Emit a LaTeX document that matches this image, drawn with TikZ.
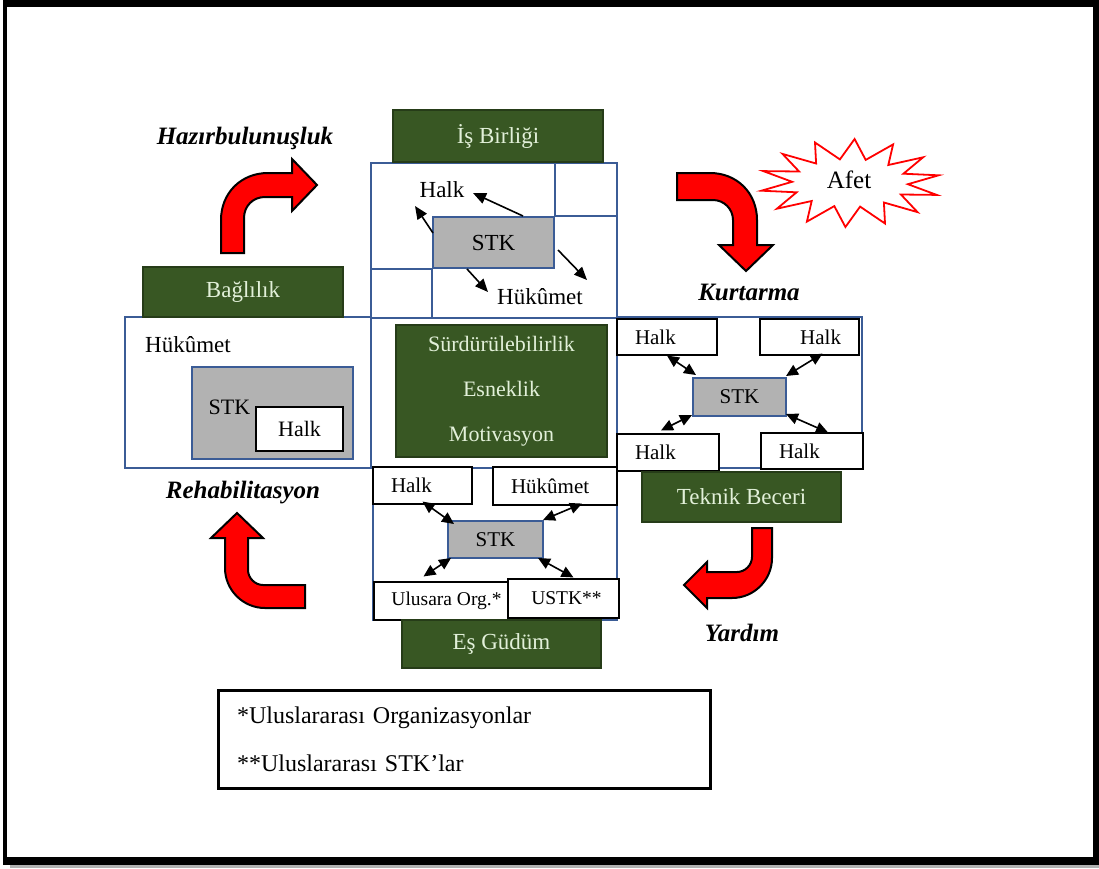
\documentclass[tikz,border=0pt]{standalone}
\usepackage{fontspec}
\setmainfont{Liberation Serif}
\usetikzlibrary{arrows.meta,calc}

\definecolor{grn}{RGB}{56,87,35}
\definecolor{grnline}{RGB}{38,60,24}
\definecolor{grntext}{RGB}{226,240,217}
\definecolor{blu}{RGB}{59,92,150}
\definecolor{stkgray}{RGB}{178,178,178}

\newcommand\fs[1]{\fontsize{#1}{#1}\selectfont}

\begin{document}
\begin{tikzpicture}[x=1pt, y=-1pt,
  wh/.style 2 args={minimum width=#1pt, minimum height=#2pt},
  greenbox/.style={draw=grnline, line width=1.2pt, fill=grn, text=grntext, font=\fs{23}, inner sep=0pt},
  frame/.style={draw=blu, line width=2pt, inner sep=0pt},
  stkbox/.style={draw=blu, line width=2pt, fill=stkgray, inner sep=0pt},
  wbox/.style={draw=black, line width=1.1pt, fill=white, inner sep=0pt},
  lbl/.style={inner sep=0pt},
  phase/.style={font=\bfseries\itshape\fs{25}, inner sep=0pt},
  link/.style={line width=1.6pt, -{Triangle[length=13pt,width=11pt]}},
  dlink/.style={line width=1.6pt, {Triangle[length=12pt,width=11pt]}-{Triangle[length=12pt,width=11pt]}},
  bent/.style={fill=red, draw=black, line width=2pt, line join=miter},
  gridline/.style={draw=blu, line width=2pt}]

% page and black border with shadow
\useasboundingbox (0,0) rectangle (1099,868);
\fill[white] (0,0) rectangle (1099,868);
\fill[gray!60] (10,862) rectangle (1099,868);
\fill[black] (3,0) rectangle (1099,865);
\fill[white] (7,7) rectangle (1093,857);

% blue frames of the four quadrants and the centre
\node[frame, wh={246}{155}] (qTop) at (494,240.5) {};
\node[frame, wh={246}{151}] (qLeft) at (248,392.5) {};
\node[frame, wh={246}{150}] (qMid) at (494,393) {};
\node[frame, wh={245}{151}] (qRight) at (739.5,392.5) {};
\node[frame, wh={244}{152}] (qBot) at (495,544) {};

% top quadrant: STK with grid lines and outward arrows
\node[stkbox, wh={121}{51}, font=\fs{23}] (stkTop) at (493.5,242.5) {STK};
\draw[gridline] (stkTop.north east) -- (stkTop.north east |- qTop.north);
\draw[gridline] (stkTop.north east) -- (stkTop.north east -| qTop.east);
\draw[gridline] (stkTop.south west) -- (stkTop.south west -| qTop.west);
\draw[gridline] (stkTop.south west) -- (stkTop.south west |- qTop.south);
\node[lbl, font=\fs{23}] (tHalk) at (442,190) {Halk};
\node[lbl, font=\fs{23}] (tHuk) at (540,297) {Hükûmet};
\draw[link] ($(stkTop.north)+(29.5,0)$) -- ($(tHalk.center)+(31,3)$);
\draw[link] ($(stkTop.west)+(1,-9.5)$) -- ($(tHalk.center)+(-27,16)$);
\draw[link] ($(stkTop.south)+(-26.5,0)$) -- ($(tHuk.center)+(-52,-5)$);
\draw[link] ($(stkTop.east)+(3,7.5)$) -- ($(tHuk.center)+(47,-17)$);

% left quadrant: nested Hükûmet / STK / Halk
\node[lbl, anchor=west, font=\fs{23}] (lHuk) at (145,345) {Hükûmet};
\node[stkbox, wh={161}{92}] (stkL) at (272.5,413) {};
\node[lbl, font=\fs{22}] (stkLt) at (229.5,407) {STK};
\node[wbox, wh={87}{44}, font=\fs{22}] (hL) at (299.5,429) {Halk};

% right quadrant: STK linked to four Halk boxes
\node[stkbox, wh={93}{38}, font=\fs{21}] (stkR) at (739.5,397) {STK};
\node[wbox, wh={100}{36}, text width=64pt, align=left, font=\fs{21}] (hTL) at (667,337) {\raisebox{-3pt}{Halk}};
\node[wbox, wh={99}{36}, text width=63pt, align=right, font=\fs{21}] (hTR) at (809.5,337) {\raisebox{-3pt}{Halk}};
\node[wbox, wh={102}{37}, text width=66pt, align=left, font=\fs{21}] (hBL) at (668,452.5) {\raisebox{-2pt}{Halk}};
\node[wbox, wh={102}{36}, text width=66pt, align=left, font=\fs{21}] (hBR) at (812,451) {\raisebox{-2pt}{Halk}};
\draw[dlink] (hTL.south) -- ($(stkR.north west)+(4,-2)$);
\draw[dlink] ($(hTR.south)+(13,-2)$) -- ($(stkR.north east)+(-1,-1)$);
\draw[dlink] ($(stkR.south west)+(0,-2)$) -- ($(hBL.north)+(-7,-3)$);
\draw[dlink] ($(stkR.south east)+(-1,-3)$) -- ($(hBR.north)+(16,0)$);

% bottom quadrant: STK linked to four partners
\node[stkbox, wh={95}{37}, font=\fs{21}] (stkB) at (495.5,539.5) {STK};
\node[wbox, wh={99}{37}, text width=63pt, align=left, font=\fs{21}] (bHalk) at (422.5,485.5) {\raisebox{-3pt}{Halk}};
\node[wbox, wh={124}{38}, text width=88pt, align=left, font=\fs{21}] (bHuk) at (555,486) {\raisebox{-3pt}{Hükûmet}};
\node[wbox, wh={145}{38}, font=\fs{19.5}] (bUlu) at (446.5,601) {\raisebox{-2pt}{Ulusara Org.*}};
\node[wbox, wh={111}{39}, font=\fs{19.5}] (bUSTK) at (563.5,598.5) {\raisebox{-2pt}{\hspace{6pt}USTK**}};
\draw[dlink] ($(bHalk.south)+(0,-3)$) -- ($(stkB.north west)+(7,4)$);
\draw[dlink] ($(bHuk.south)+(27,-2)$) -- ($(stkB.north east)+(-1,0)$);
\draw[dlink] ($(stkB.south west)+(4,-1)$) -- ($(bUlu.north)+(-23,-5)$);
\draw[dlink] ($(stkB.south east)+(-6,-1)$) -- ($(bUSTK.north)+(10,-1)$);

% green value boxes
\node[greenbox, wh={210}{52}] (gIs) at (498,136) {İş Birliği};
\node[greenbox, wh={200}{50}] (gBag) at (243,292) {Bağlılık};
\node[greenbox, wh={199}{50}] (gTek) at (741.5,497) {Teknik Beceri};
\node[greenbox, wh={199}{48}] (gEs) at (501.5,644) {Eş Güdüm};
\node[greenbox, wh={211}{132}, align=center, font=\fontsize{22}{45}\selectfont] (gC) at (501.5,391)
  {Sürdürülebilirlik\\Esneklik\\Motivasyon};

% phase names
\node[phase] (pHaz) at (245,138) {Hazırbulunuşluk};
\node[phase] (pKur) at (749,292) {Kurtarma};
\node[phase] (pReh) at (243,493) {Rehabilitasyon};
\node[phase] (pYar) at (742,633) {Yardım};

% bent arrows of the cycle
\draw[bent] (221,253) -- (221,220) .. controls (221,193) and (241,173) .. (268,173) -- (292,173) -- (292,159)
  -- (317,185) -- (292,211) -- (292,197) -- (265,197) .. controls (253,197) and (244,206) .. (244,218) -- (244,253) -- cycle;
\draw[bent] (677,173) -- (710,173) .. controls (737,173) and (757,193) .. (757,220) -- (757,245) -- (773,245)
  -- (746,271) -- (719,245) -- (733,245) -- (733,220) .. controls (733,209) and (724,200) .. (713,200) -- (677,200) -- cycle;
\draw[bent] (752,528) -- (772,528) -- (772,558) .. controls (772,580) and (754,598) .. (732,598) -- (707,598) -- (707,608)
  -- (684,585) -- (707,562) -- (707,572) -- (737,572) .. controls (745,572) and (752,565) .. (752,557) -- cycle;
\draw[bent] (237,513) -- (263,538) -- (248,538) -- (248,570) .. controls (248,578) and (255,585) .. (263,585) -- (305,585)
  -- (305,608) -- (265,608) .. controls (243,608) and (225,590) .. (225,568) -- (225,538) -- (211,538) -- cycle;

% disaster starburst
\draw[draw=red, line width=1.8pt, fill=white, line join=miter]
  (938.6,175.3) -- (903.4,173.7) -- (923.1,157.3) -- (888.3,165.0) -- (893.1,144.4) -- (865.7,159.9)
  -- (854.6,139.0) -- (839.9,159.4) -- (815.0,142.5) -- (816.1,163.5) -- (782.5,153.9) -- (799.1,171.5)
  -- (763.3,171.1) -- (792.1,181.8) -- (761.4,190.7) -- (796.6,192.3) -- (776.9,208.7) -- (811.7,201.0)
  -- (806.9,221.6) -- (834.3,206.1) -- (845.4,227.0) -- (860.1,206.6) -- (885.0,223.5) -- (883.9,202.5)
  -- (917.5,212.1) -- (900.9,194.5) -- (936.7,194.9) -- (907.9,184.2) -- cycle;
\node[lbl, font=\fs{25}] (afet) at (849,180) {Afet};

% legend
\node[draw=black, line width=3pt, wh={492}{98}, text width=454pt, align=left, inner sep=0pt,
  font=\fontsize{24}{48}\selectfont] (legend) at (464,739)
  {*Uluslararası Organizasyonlar\\{}**Uluslararası STK’lar};
\end{tikzpicture}
\end{document}
